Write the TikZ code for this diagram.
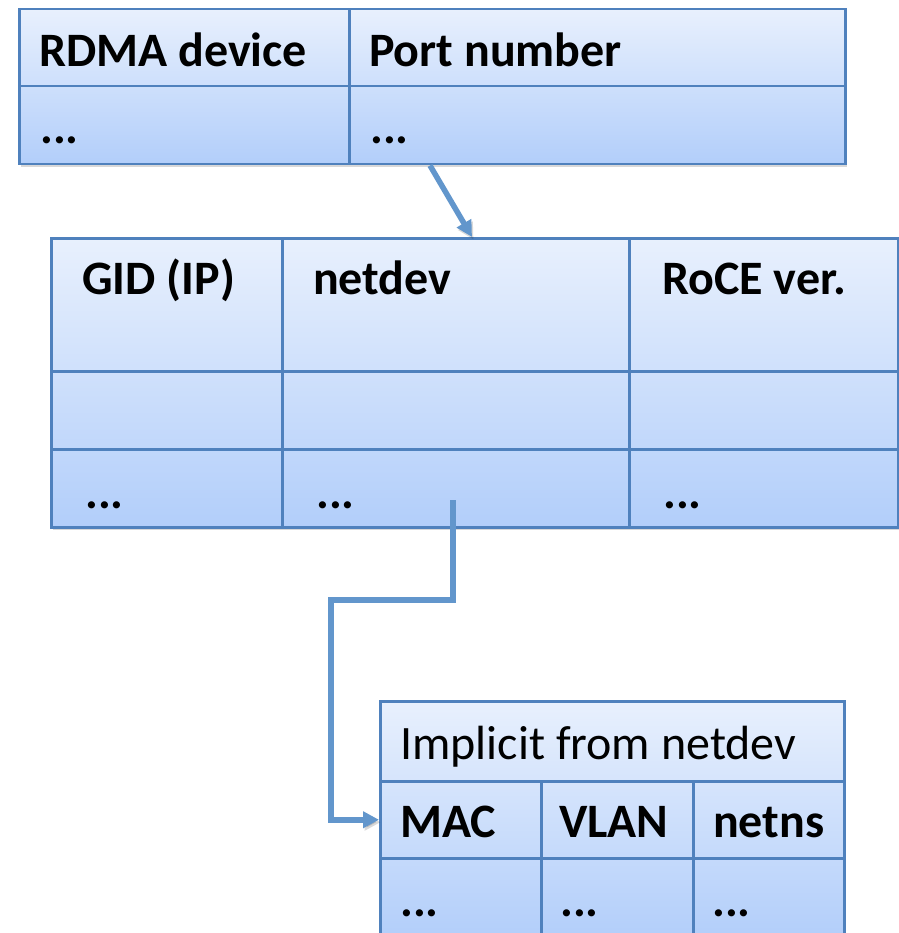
\documentclass[tikz,border=0pt]{standalone}
\usepackage{fontspec}
\setmainfont{Carlito}
\usetikzlibrary{shadows,arrows.meta}

\definecolor{cellline}{RGB}{79,129,189}
\definecolor{linkblue}{RGB}{98,150,204}
\definecolor{celltop}{RGB}{232,240,253}
\definecolor{cellbot}{RGB}{178,206,250}

\tikzset{
  tbl/.style={draw=cellline, line width=2.5pt, top color=celltop, bottom color=cellbot,
    anchor=north west, inner sep=0pt,
    drop shadow={shadow xshift=2pt, shadow yshift=-3pt, opacity=0.3}},
  cell/.style={draw=cellline, line width=2.5pt, anchor=north west, inner sep=0pt},
  head/.style={anchor=base west, inner sep=0pt, font=\fontsize{48}{56}\selectfont\bfseries},
  note/.style={anchor=base west, inner sep=0pt, font=\fontsize{48}{56}\selectfont},
  link/.style={draw=linkblue, line width=5.5pt, -{Triangle[length=16pt,width=16pt]},
    preaction={draw=black, opacity=0.15, transform canvas={shift={(1.5pt,-2.5pt)}}}}
}

\begin{document}
\begin{tikzpicture}[x=1pt, y=1pt]
  \fill[white] (0,0) rectangle (898,-933);
  \useasboundingbox (0,0) rectangle (898,-933);

  % port table
  \node[tbl, minimum width=826pt, minimum height=155pt] (devtab) at (18,-8) {};
  \node[cell, minimum width=330pt, minimum height=77pt] (rdma) at (18,-8) {};
  \node[cell, minimum width=496pt, minimum height=77pt] (port) at (348,-8) {};
  \node[cell, minimum width=330pt, minimum height=78pt] (rdmav) at (18,-85) {};
  \node[cell, minimum width=496pt, minimum height=78pt] (portv) at (348,-85) {};
  \node[head] (rdma-t) at (39,-67) {RDMA device};
  \node[head] (port-t) at (369,-67) {Port number};
  \node[head] (rdmav-t) at (40,-144) {...};
  \node[head] (portv-t) at (370,-144) {...};

  % gid table
  \node[tbl, minimum width=847pt, minimum height=289pt] (gidtab) at (50,-237) {};
  \node[cell, minimum width=231pt, minimum height=133pt] (gid) at (50,-237) {};
  \node[cell, minimum width=347pt, minimum height=133pt] (ndev) at (281,-237) {};
  \node[cell, minimum width=269pt, minimum height=133pt] (roce) at (628,-237) {};
  \node[cell, minimum width=231pt, minimum height=78pt] (gid2) at (50,-370) {};
  \node[cell, minimum width=347pt, minimum height=78pt] (ndev2) at (281,-370) {};
  \node[cell, minimum width=269pt, minimum height=78pt] (roce2) at (628,-370) {};
  \node[cell, minimum width=231pt, minimum height=78pt] (gidv) at (50,-448) {};
  \node[cell, minimum width=347pt, minimum height=78pt] (ndevv) at (281,-448) {};
  \node[cell, minimum width=269pt, minimum height=78pt] (rocev) at (628,-448) {};
  \node[head] (gid-t) at (82,-294) {GID (IP)};
  \node[head] (ndev-t) at (313,-294) {netdev};
  \node[head] (roce-t) at (662,-294) {RoCE ver.};
  \node[head] (gidv-t) at (85,-508) {...};
  \node[head] (ndevv-t) at (316,-508) {...};
  \node[head] (rocev-t) at (663,-508) {...};

  % netdev table
  \node[tbl, minimum width=464pt, minimum height=237pt] (nettab) at (379,-700) {};
  \node[cell, minimum width=464pt, minimum height=80pt] (impl) at (379,-700) {};
  \node[cell, minimum width=161pt, minimum height=77pt] (mac) at (379,-780) {};
  \node[cell, minimum width=152pt, minimum height=77pt] (vlan) at (540,-780) {};
  \node[cell, minimum width=151pt, minimum height=77pt] (netns) at (692,-780) {};
  \node[cell, minimum width=161pt, minimum height=80pt] (macv) at (379,-857) {};
  \node[cell, minimum width=152pt, minimum height=80pt] (vlanv) at (540,-857) {};
  \node[cell, minimum width=151pt, minimum height=80pt] (netnsv) at (692,-857) {};
  \node[note] (impl-t) at (400,-759) {Implicit from netdev};
  \node[head] (mac-t) at (400,-837) {MAC};
  \node[head] (vlan-t) at (559,-837) {VLAN};
  \node[head] (netns-t) at (713,-837) {netns};
  \node[head] (macv-t) at (400,-916) {...};
  \node[head] (vlanv-t) at (560,-916) {...};
  \node[head] (netnsv-t) at (712,-916) {...};

  % links
  \draw[link] ([xshift=82pt]portv.south west) -- ([xshift=191pt]ndev.north west);
  \coordinate (tap) at (453,-500);
  \coordinate (bend) at (331,-600);
  \draw[link] (tap) |- (bend) |- (mac.west);
\end{tikzpicture}
\end{document}
